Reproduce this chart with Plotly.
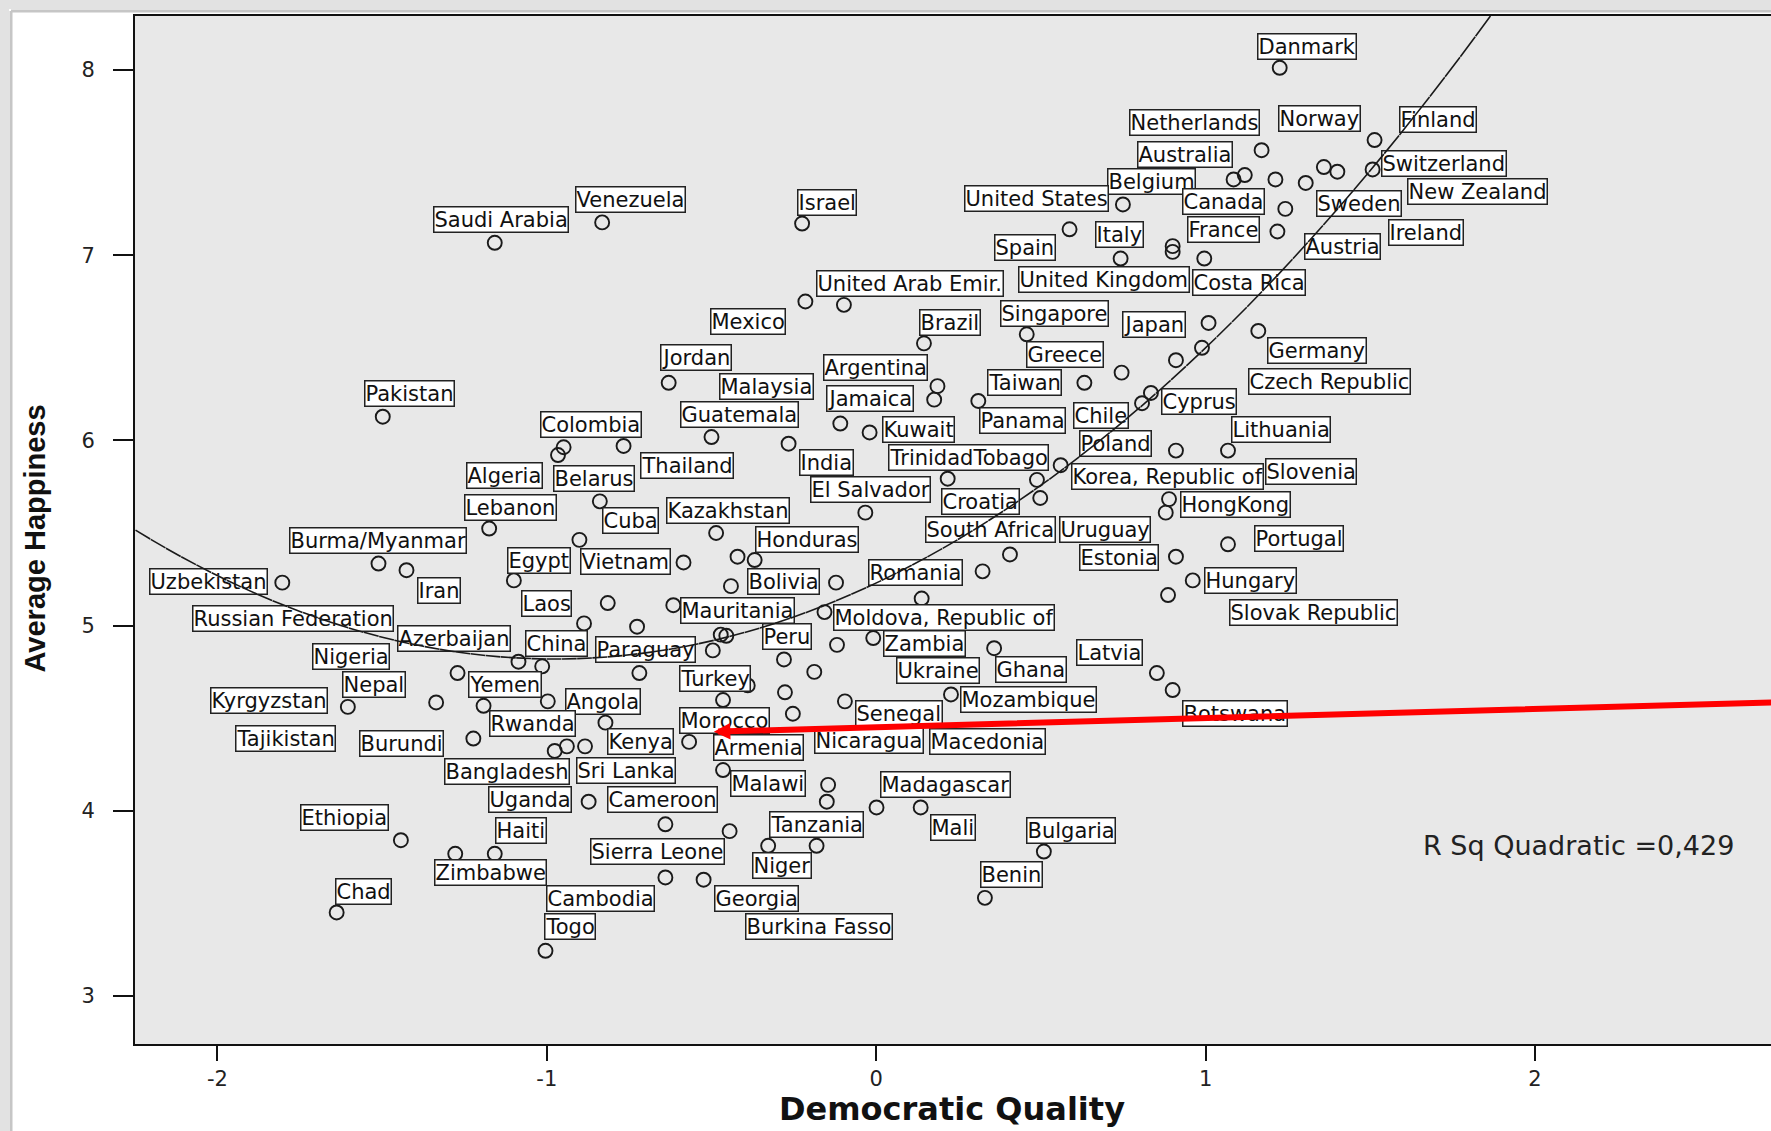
import numpy as np
import plotly.graph_objects as go

# ---------------- data ----------------
countries = ["Danmark", "Netherlands", "Norway", "Finland", "Australia", "Switzerland", "Belgium",
    "Saudi Arabia", "Venezuela", "Israel", "United States", "Canada", "New Zealand", "Sweden",
    "France", "Italy", "Ireland", "Austria", "Spain", "United Kingdom", "Costa Rica",
    "United Arab Emir.", "Mexico", "Singapore", "Brazil", "Japan", "Germany", "Greece", "Jordan",
    "Argentina", "Czech Republic", "Malaysia", "Taiwan", "Pakistan", "Jamaica", "Cyprus",
    "Guatemala", "Colombia", "Panama", "Chile", "Kuwait", "Lithuania", "Poland", "Thailand",
    "TrinidadTobago", "India", "Algeria", "Belarus", "Korea, Republic of", "Slovenia",
    "El Salvador", "Croatia", "HongKong", "Lebanon", "Kazakhstan", "Cuba", "Honduras",
    "South Africa", "Uruguay", "Portugal", "Burma/Myanmar", "Egypt", "Vietnam", "Estonia",
    "Romania", "Bolivia", "Hungary", "Uzbekistan", "Iran", "Laos", "Mauritania",
    "Moldova, Republic of", "Slovak Republic", "Russian Federation", "Azerbaijan", "China",
    "Paraguay", "Peru", "Zambia", "Latvia", "Nigeria", "Ukraine", "Ghana", "Turkey", "Nepal",
    "Yemen", "Mozambique", "Kyrgyzstan", "Angola", "Senegal", "Botswana", "Morocco", "Rwanda",
    "Tajikistan", "Burundi", "Kenya", "Armenia", "Nicaragua", "Macedonia", "Bangladesh",
    "Sri Lanka", "Malawi", "Madagascar", "Uganda", "Cameroon", "Ethiopia", "Tanzania", "Haiti",
    "Mali", "Bulgaria", "Sierra Leone", "Niger", "Zimbabwe", "Benin", "Chad", "Cambodia",
    "Georgia", "Togo", "Burkina Fasso"]

democratic_quality = [1.225, 1.170, 1.359, 1.513, 1.119, 1.507, 1.085,
    -1.158, -0.832, -0.225, 0.749, 1.242, 1.304, 1.400,
    1.218, 0.742, 1.212, 0.900, 0.587, 0.900, 0.996,
    -0.098, -0.215, 0.457, 0.145, 1.009, 1.160, 0.745, -0.630,
    0.186, 0.989, -0.109, 0.632, -1.498, 0.176, 0.834,
    -0.500, -0.949, 0.310, 0.807, -0.020, 0.910, 0.910, -0.767,
    0.560, -0.266, -0.966, -0.839, 0.488, 1.068,
    -0.033, 0.498, 0.889, -1.175, -0.486, -0.901, -0.369,
    0.406, 0.879, 1.068, -1.511, -1.100, -0.585, 0.910,
    0.323, -0.122, 0.961, -1.803, -1.426, -0.815, -0.616,
    -0.157, 0.886, -0.887, -1.086, -1.014,
    -0.496, -0.119, -0.009, 0.852, -1.271, -0.188, 0.358, -0.719, -1.336,
    -1.192, 0.227, -1.604, -0.997, -0.095, 0.900, -0.465, -0.822,
    -0.976, -1.223, -0.568, -0.465, -0.253, -0.277, -0.939,
    -0.884, -0.146, 0.001, -0.873, -0.640, -1.443, -0.150, -1.158,
    0.135, 0.509, -0.445, -0.328, -1.278, 0.330, -1.638, -0.640,
    -0.524, -1.004, -0.181]

average_happiness = [8.012, 7.567, 7.476, 7.622, 7.433, 7.463, 7.409,
    7.067, 7.177, 7.171, 7.274, 7.250, 7.390, 7.451,
    7.128, 6.982, 7.409, 7.049, 7.140, 7.018, 6.982,
    6.732, 6.750, 6.573, 6.524, 6.634, 6.591, 6.366, 6.311,
    6.293, 6.500, 6.091, 6.311, 6.128, 6.220, 6.256,
    6.018, 5.963, 6.213, 6.201, 6.043, 6.433, 5.945, 5.970,
    5.866, 5.982, 5.921, 5.671, 5.787, 5.945,
    5.610, 5.689, 5.683, 5.524, 5.500, 5.463, 5.354,
    5.384, 5.610, 5.439, 5.335, 5.244, 5.341, 5.372,
    5.293, 5.232, 5.244, 5.232, 5.299, 5.122, 5.110,
    5.073, 5.165, 5.012, 4.805, 4.780,
    4.866, 4.896, 4.933, 4.744, 4.744, 4.750, 4.878, 4.744, 4.585,
    4.567, 4.628, 4.561, 4.591, 4.591, 4.652, 4.598, 4.476,
    4.323, 4.390, 4.372, 4.220, 4.524, 4.640, 4.348,
    4.348, 4.140, 4.018, 4.049, 3.927, 3.841, 4.049, 3.768,
    4.018, 3.780, 3.890, 3.811, 3.768, 3.530, 3.451, 3.640,
    3.628, 3.244, 3.811]

# cases drawn without a label
other_dq = [0.217, -0.726, -0.421, -0.441, 0.138, -0.472, -0.280, -0.390, -0.455]
other_happy = [5.793, 4.994, 5.372, 5.213, 5.146, 4.951, 4.817, 4.677, 4.945]

# label placement relative to the point (pixels)
label_dx = [-23, -133, -46, 24, -108, 8, -127,
    -62, -27, -5, -159, -103, 101, -21,
    -90, -26, 113, 131, -76, -155, -12,
    -28, -95, -27, -5, -87, 9, -96, -9,
    -114, 46, -121, -97, -19, -108, 10,
    -32, -24, 1, -69, 12, 55, -97, 16,
    -173, 10, -92, -47, 34, 37,
    -55, -99, 11, -25, -50, 23, 0,
    -85, -107, 26, -89, -7, -104, -97,
    -115, -89, 11, -133, 11, -87, 7,
    9, 61, -392, -121, -17,
    -118, -75, 10, -81, -146, 82, 1, 40, -94,
    -16, 9, -138, 17, 10, 9, -44, -116,
    -320, -114, -82, -10, 21, 144, -123,
    -9, -98, 3, -101, -58, -101, -58, 0,
    9, -18, -140, -16, -21, -5, -2, -119,
    10, -1, -72]
label_dy = [21, 28, 49, 21, 21, 6, -2,
    23, 23, 21, 6, 7, -9, -32,
    2, 24, -53, 0, -18, -28, -24,
    21, -20, 21, 21, -2, -20, 18, 25,
    19, -34, 37, 0, 23, 1, -9,
    23, 23, -20, -12, 3, -69, 7, -20,
    8, -19, -20, 23, 3, -21,
    23, -3, -5, 21, 23, 19, 21,
    25, -17, 6, 23, 20, 1, -1,
    -1, 1, 0, 1, -20, 0, -5,
    -5, -17, 5, 23, 23,
    1, 8, -5, 21, 17, 1, -21, -5, 18,
    21, -5, 6, 0, -12, -23, -20, -1,
    12, -5, 0, 23, -27, -49, -25,
    -24, 1, 23, 2, 25, 23, -23, 23,
    -20, 21, -20, -20, -19, 23, 21, -21,
    -19, 24, -81]

fit_coef = [5.23, 0.84, 0.43]          # quadratic fit: a + b*x + c*x^2
r_sq_text = "R Sq Quadratic =0,429"
x_ticks = [-2, -1, 0, 1, 2]
y_ticks = [3, 4, 5, 6, 7, 8]

# ---------------- layout geometry ----------------
W, H = 1771, 1131
ML, MR, MT, MB = 135, 0, 16, 87
XR = [-2.2502, 2.7165]
YR = [2.7408, 8.2916]


def px(xp):
    return (xp - ML) / (W - ML - MR)


def py(yp):
    return (H - MB - yp) / (H - MT - MB)


LABEL_FONT = dict(family="DejaVu Sans", size=21, color="#111")
INK = "#1a1a1a"

fig = go.Figure()

all_x = democratic_quality + other_dq
all_y = average_happiness + other_happy
fig.add_trace(go.Scatter(
    x=all_x, y=all_y, mode="markers",
    marker=dict(symbol="circle", size=14, color="rgba(0,0,0,0)",
                line=dict(color=INK, width=1.9)),
    hoverinfo="skip", showlegend=False, cliponaxis=False))

annotations = []
for name, xv, yv, dx, dy in zip(countries, democratic_quality, average_happiness, label_dx, label_dy):
    annotations.append(dict(
        x=xv, y=yv, xref="x", yref="y", text=name, showarrow=False,
        xanchor="left", yanchor="middle", xshift=dx, yshift=dy,
        font=LABEL_FONT, bgcolor="white", bordercolor="#222",
        borderwidth=1.5, borderpad=0))

# quadratic fit line (drawn over the labels, as in the original)
a, b, c = fit_coef
x_top = (-b + np.sqrt(b * b - 4 * c * (a - YR[1]))) / (2 * c)
xs = np.linspace(XR[0], x_top, 90)
ys = a + b * xs + c * xs ** 2
for i in range(len(xs) - 1):
    annotations.append(dict(
        x=float(xs[i + 1]), y=float(ys[i + 1]), ax=float(xs[i]), ay=float(ys[i]),
        xref="x", yref="y", axref="x", ayref="y", text="", showarrow=True,
        font=dict(size=1), borderpad=0, borderwidth=0, width=1, height=1,
        arrowhead=0, arrowwidth=1.6, arrowcolor=INK, standoff=0, startstandoff=0))

# R squared
annotations.append(dict(
    x=1.654, y=3.815, xref="x", yref="y", text=r_sq_text, showarrow=False,
    xanchor="left", yanchor="middle",
    font=dict(family="DejaVu Sans", size=27, color="#222")))

# red arrow pointing at the cluster
annotations.append(dict(
    x=-0.493, y=4.427, ax=2.9, ay=4.594, xref="x", yref="y", axref="x", ayref="y",
    text="", showarrow=True, arrowhead=2, arrowsize=0.55, arrowwidth=6,
    arrowcolor="#ff0000", standoff=0, font=dict(size=1), width=1, height=1))

# axis titles
annotations.append(dict(
    x=px(34.5), y=py(539), xref="paper", yref="paper", text="<b>Average Happiness</b>",
    textangle=-90, showarrow=False, xanchor="center", yanchor="middle",
    font=dict(family="Liberation Sans", size=29, color="#111")))
annotations.append(dict(
    x=px(952), y=py(1109), xref="paper", yref="paper", text="<b>Democratic Quality</b>",
    showarrow=False, xanchor="center", yanchor="middle",
    font=dict(family="DejaVu Sans", size=32, color="#111")))

# window frame strips at top and left
shapes = [
    dict(type="rect", xref="paper", yref="paper", x0=px(0), x1=px(W), y0=py(0), y1=py(9),
         fillcolor="#e2e2e2", line=dict(width=0), layer="below"),
    dict(type="rect", xref="paper", yref="paper", x0=px(0), x1=px(9), y0=py(0), y1=py(H),
         fillcolor="#e2e2e2", line=dict(width=0), layer="below"),
    dict(type="line", xref="paper", yref="paper", x0=px(11), x1=px(W), y0=py(11), y1=py(11),
         line=dict(color="#c6c6c6", width=3)),
    dict(type="line", xref="paper", yref="paper", x0=px(11), x1=px(11), y0=py(11), y1=py(H),
         line=dict(color="#c6c6c6", width=3)),
]

fig.update_layout(
    width=W, height=H,
    margin=dict(l=ML, r=MR, t=MT, b=MB, pad=0),
    paper_bgcolor="white", plot_bgcolor="#e8e8e8",
    showlegend=False,
    annotations=annotations, shapes=shapes,
    xaxis=dict(range=XR, tickvals=x_ticks, ticktext=[str(t) for t in x_ticks],
               ticks="outside", ticklen=15, tickwidth=2, tickcolor="#111",
               showline=True, linecolor="#111", linewidth=2, mirror=True,
               showgrid=False, zeroline=False, ticklabelstandoff=0,
               tickfont=dict(family="DejaVu Sans", size=21, color="#222")),
    yaxis=dict(range=YR, tickvals=y_ticks, ticktext=[str(t) for t in y_ticks],
               ticks="outside", ticklen=20, tickwidth=2, tickcolor="#111",
               showline=True, linecolor="#111", linewidth=2, mirror=False,
               showgrid=False, zeroline=False, ticklabelstandoff=14,
               tickfont=dict(family="DejaVu Sans", size=21, color="#222")),
)

fig.write_html("out.html", config={"displayModeBar": False},
               post_script="document.body.style.margin='0';document.body.style.overflow='hidden';")
